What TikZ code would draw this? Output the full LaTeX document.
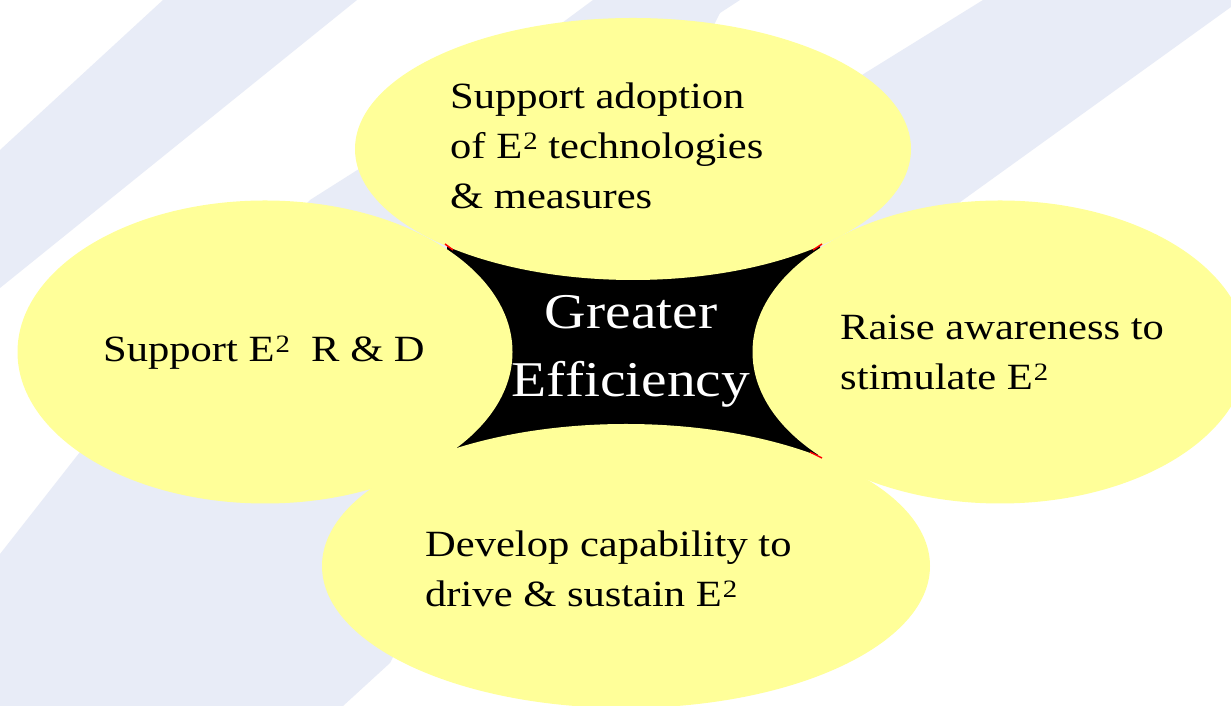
\documentclass[tikz,border=0pt]{standalone}
\usepackage{fontspec}
\setmainfont[FakeStretch=1.15]{Liberation Serif}
\usepackage{xcolor}
\definecolor{petal}{RGB}{255,255,153}
\definecolor{stripe}{RGB}{232,236,247}
\newcommand\Esq{E\kern1pt\raisebox{9pt}{\fontsize{25}{25}\selectfont 2}}

\begin{document}
\begin{tikzpicture}[x=1pt,y=1pt,
    every node/.style={inner sep=0pt,font=\fontsize{37}{50}\selectfont},
    petaltext/.style={align=left,anchor=west},
    hubtext/.style={align=center,text=white,font=\fontsize{50}{68}\selectfont}]
    \useasboundingbox (0,0) rectangle (1231,706);
    \fill[white] (0,0) rectangle (1231,706);
    % background stripes
    \fill[stripe] (163,706) -- (357,706) -- (0,418) -- (0,556) -- cycle;
    \fill[stripe] (593,706) -- (740,706) -- (720,693) -- (390,43) -- (343,0) -- (0,0)
        -- (0,152) -- (80,254) -- (310,506) -- (400,563) -- cycle;
    \fill[stripe] (983,706) -- (1231,706) -- (1231,699) -- (963,506) -- (838,416)
        -- (700,416) -- (750,561) -- (870,636) -- cycle;
    % hub and petals
    \fill[black] (447,461) -- (820,461) -- (820,251) -- (457,258) -- cycle;
    \fill[petal] (633,557) ellipse [x radius=278pt, y radius=131pt];
    \fill[petal] (265,354) ellipse [x radius=247.5pt, y radius=151.5pt];
    \fill[petal] (1000,354) ellipse [x radius=247.5pt, y radius=151.5pt];
    \fill[petal] (626,140) ellipse [x radius=304pt, y radius=142pt];
    \draw[red,line width=1.5pt] (445,462) -- (453,456);
    \draw[red,line width=1.5pt] (813,456) -- (822,462);
    \draw[red,line width=1.5pt] (810,254) -- (822,248);

    \node[hubtext] (hub) at (631,355) {Greater\\Efficiency};
    \node[petaltext] (adopt) at (450,560)
        {Support adoption\\of \Esq{} technologies\\\& measures};
    \node[petaltext] (rnd) at (103,353) {Support \Esq\ \ R \& D};
    \node[petaltext] (aware) at (840,354) {Raise awareness to\\stimulate \Esq};
    \node[petaltext] (capab) at (425,137) {Develop capability to\\drive \& sustain \Esq};
\end{tikzpicture}
\end{document}
